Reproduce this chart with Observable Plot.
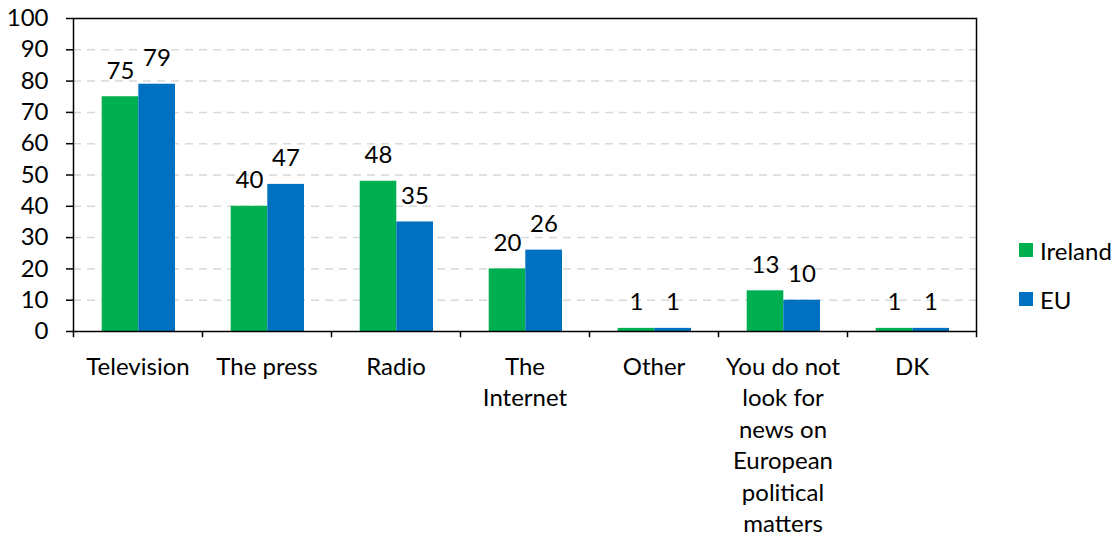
<!DOCTYPE html>
<html><head><meta charset="utf-8">
<script src="https://cdn.jsdelivr.net/npm/d3@7"></script>
<script src="https://cdn.jsdelivr.net/npm/@observablehq/plot@0.6"></script>
<style>
body{margin:0;background:#fff;font-family:Lato,"Open Sans",sans-serif;}
#wrap{position:relative;width:1120px;height:539px;}
.legend{position:absolute;left:1019px;font-size:24px;color:#000;}
.legend div{display:flex;align-items:center;height:28px;position:absolute;white-space:nowrap;}
.legend span.sw{display:inline-block;width:14px;height:14px;margin-right:7px;}
</style></head><body><div id="wrap"></div>
<script>
const categories = ["Television","The press","Radio","The Internet","Other","You do not look for news on European political matters","DK"];
const tickLabels = ["Television","The press","Radio","The\nInternet","Other","You do not\nlook for\nnews on\nEuropean\npolitical\nmatters","DK"];
const ireland = [75,40,48,20,1,13,1];
const eu = [79,47,35,26,1,10,1];
const seriesNames = ["Ireland","EU"];
const seriesColors = ["#00B050","#0070C0"];
const yTicks = [0,10,20,30,40,50,60,70,80,90,100];

const irlRows = categories.map((c,i)=>({category:c, series:"Ireland", value:ireland[i]}));
const euRows = categories.map((c,i)=>({category:c, series:"EU", value:eu[i]}));

const FS = 24;
const chart = Plot.plot({
  width:1120, height:539,
  marginLeft:73, marginRight:144, marginTop:18, marginBottom:208,
  style:{fontFamily:"Lato, 'Open Sans', sans-serif", fontSize:FS+"px", color:"#000", background:"#fff", overflow:"visible"},
  x:{domain:categories, padding:0},
  y:{domain:[0,100]},
  marks:[
    Plot.ruleY(yTicks.filter(d=>d>0 && d<100), {y:d=>d, stroke:"#d9d9d9", strokeWidth:1.5, strokeDasharray:"8,6"}),
    Plot.barY(irlRows, {x:"category", y:"value", fill:seriesColors[0], insetLeft:28.7, insetRight:63.7}),
    Plot.barY(euRows, {x:"category", y:"value", fill:seriesColors[1], insetLeft:65.3, insetRight:27}),
    Plot.text(irlRows, {x:"category", y:"value", text:d=>String(d.value), dx:-17.5, dy:-18, lineAnchor:"bottom", fontSize:FS, fill:"#000"}),
    Plot.text(euRows, {x:"category", y:"value", text:d=>String(d.value), dx:19, dy:-18, lineAnchor:"bottom", fontSize:FS, fill:"#000"}),
    Plot.frame({stroke:"#000", strokeWidth:1.5}),
    Plot.ruleX(categories, {x:d=>d, y1:0, y2:-2, dx:-64.5, stroke:"#000", strokeWidth:1.5}),
    Plot.ruleX(categories.slice(-1), {x:d=>d, y1:0, y2:-2, dx:64.5, stroke:"#000", strokeWidth:1.5}),
    Plot.axisY({ticks:yTicks, tickSize:7, tickPadding:18, fontSize:FS, tickFormat:d=>String(d), stroke:"#000", strokeWidth:1.5, label:null}),
    Plot.axisX({tickSize:0, tickPadding:21, fontSize:FS, lineHeight:1.31, tickFormat:d=>tickLabels[categories.indexOf(d)], label:null})
  ]
});
const wrap = document.getElementById("wrap");
wrap.appendChild(chart);
const leg = document.createElement("div");
leg.className = "legend";
leg.style.top = "0px";
const legTops = [236, 285];
seriesNames.forEach((n,i)=>{
  const item = document.createElement("div");
  item.style.top = legTops[i] + "px";
  item.innerHTML = `<span class="sw" style="background:${seriesColors[i]}"></span>${n}`;
  leg.appendChild(item);
});
wrap.appendChild(leg);
</script>
</body></html>
